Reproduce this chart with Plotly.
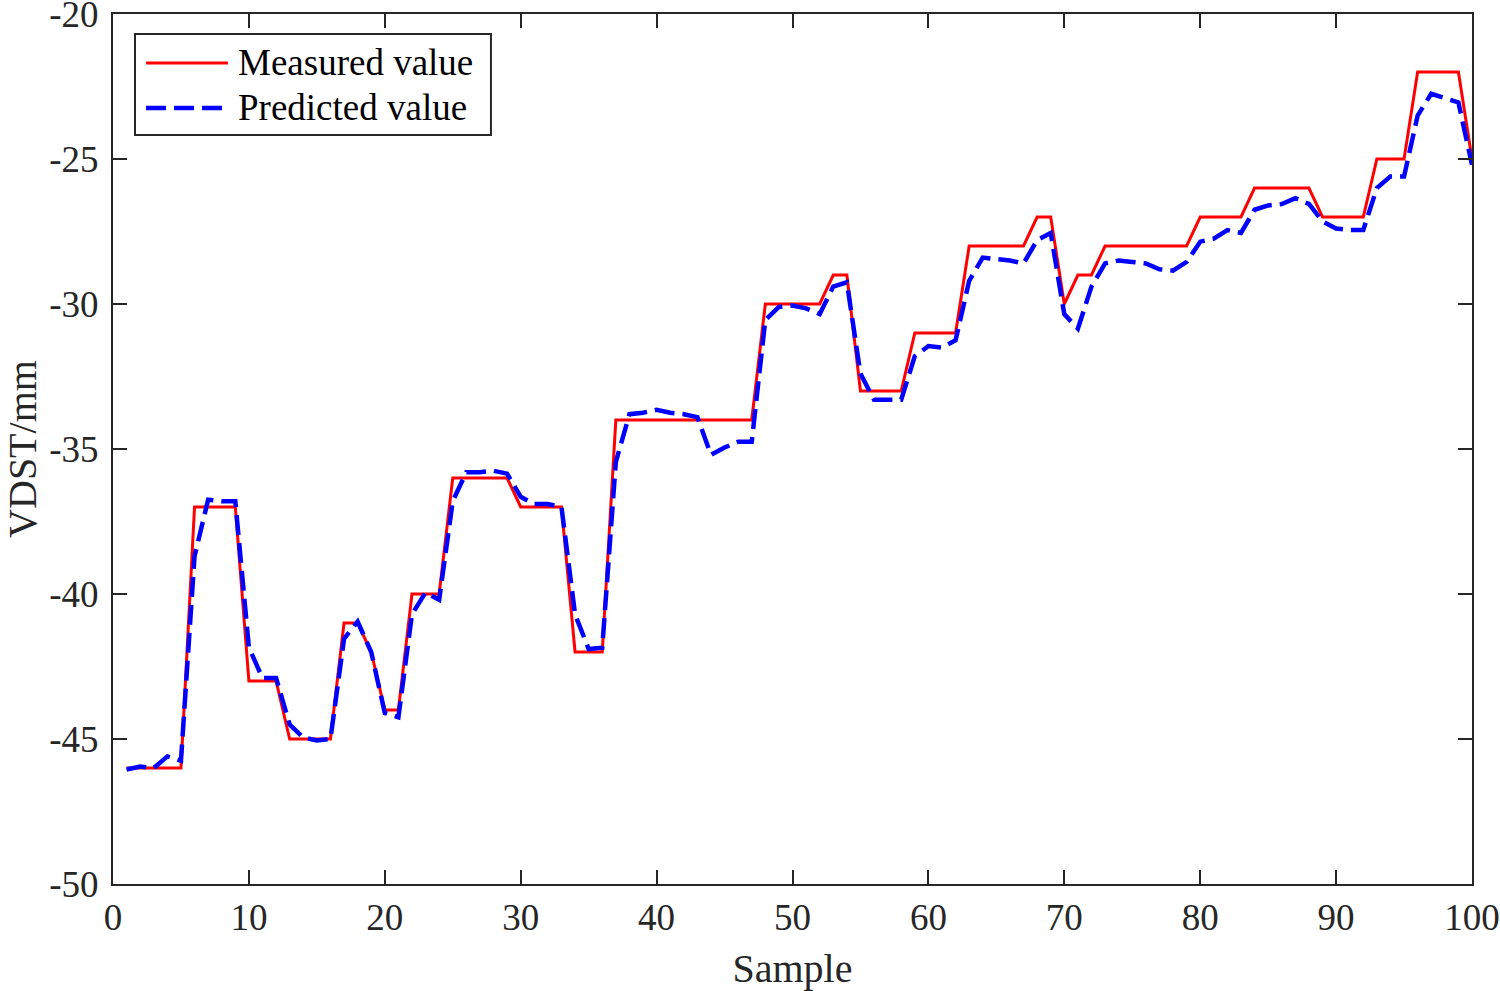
import plotly.graph_objects as go

# sample index
sample = list(range(1, 101))

# measured VDST (mm), stepwise integer values
measured = [
    -46, -46, -46, -46, -46,
    -37, -37, -37, -37,
    -43, -43, -43,
    -45, -45, -45, -45,
    -41, -41, -42, -44, -44,
    -40, -40, -40,
    -36, -36, -36, -36, -36,
    -37, -37, -37, -37,
    -42, -42, -42,
    -34, -34, -34, -34, -34, -34, -34, -34, -34, -34, -34,
    -30, -30, -30, -30, -30,
    -29, -29,
    -33, -33, -33, -33,
    -31, -31, -31, -31,
    -28, -28, -28, -28, -28,
    -27, -27,
    -30,
    -29, -29,
    -28, -28, -28, -28, -28, -28, -28,
    -27, -27, -27, -27,
    -26, -26, -26, -26, -26,
    -27, -27, -27, -27,
    -25, -25, -25,
    -22, -22, -22, -22,
    -25,
]

# predicted VDST (mm)
predicted = [
    -46.05, -45.95, -46.0, -45.6, -45.75, -38.7, -36.75, -36.8, -36.8, -41.85,
    -42.9, -42.9, -44.5, -44.95, -45.05, -45.0, -41.55, -40.95, -42.0, -44.1,
    -44.25, -40.7, -39.95, -40.2, -36.8, -35.8, -35.8, -35.75, -35.85, -36.65,
    -36.9, -36.9, -37.0, -40.7, -41.9, -41.85, -35.45, -33.8, -33.75, -33.65,
    -33.75, -33.8, -33.9, -35.2, -34.95, -34.75, -34.75, -30.55, -30.1, -30.05,
    -30.15, -30.35, -29.4, -29.25, -32.4, -33.3, -33.3, -33.3, -31.8, -31.45,
    -31.5, -31.25, -29.2, -28.4, -28.45, -28.5, -28.6, -27.8, -27.55, -30.35,
    -30.85, -29.4, -28.6, -28.5, -28.55, -28.6, -28.8, -28.85, -28.55, -27.85,
    -27.75, -27.45, -27.55, -26.75, -26.6, -26.55, -26.35, -26.55, -27.15, -27.4,
    -27.45, -27.45, -26.0, -25.6, -25.6, -23.5, -22.75, -22.9, -23.05, -25.2,
]

# tick labels (plain hyphen for minus, as in the original)
x_ticks = [0, 10, 20, 30, 40, 50, 60, 70, 80, 90, 100]
y_ticks = [-50, -45, -40, -35, -30, -25, -20]
y_tick_text = ["-50", "-45", "-40", "-35", "-30", "-25", "-20"]

series_names = ["Measured value", "Predicted value"]
series_colors = ["#ff0000", "#0000ff"]
series_dash = ["solid", "20px,8px"]
series_width = [3, 4.5]

axis_col = "#262626"
font_name = "Liberation Serif"

fig = go.Figure()
fig.add_trace(go.Scatter(x=sample, y=measured, mode="lines", name=series_names[0],
                         line=dict(color=series_colors[0], width=series_width[0])))
fig.add_trace(go.Scatter(x=sample, y=predicted, mode="lines", name=series_names[1],
                         line=dict(color=series_colors[1], width=series_width[1], dash=series_dash[1])))

axis_common = dict(
    showline=True, linecolor=axis_col, linewidth=2, mirror="ticks",
    ticks="inside", ticklen=14, tickwidth=2, tickcolor=axis_col,
    showgrid=False, zeroline=False, automargin=False,
    ticklabeloverflow="allow",
    tickfont=dict(family=font_name, size=37, color=axis_col),
)

fig.update_xaxes(range=[0, 100], tickvals=x_ticks,
                 title=dict(text="Sample", font=dict(family=font_name, size=40, color=axis_col), standoff=24),
                 **axis_common)
fig.update_yaxes(range=[-50, -20], tickvals=y_ticks, ticktext=y_tick_text, ticklabelstandoff=5,
                 title=dict(text="VDST/mm", font=dict(family=font_name, size=40, color=axis_col), standoff=28),
                 **axis_common)

# legend box drawn in paper coordinates (MATLAB-style long line samples)
fig.add_shape(type="rect", xref="paper", yref="paper", x0=0.0162, x1=0.2781, y0=0.861, y1=0.977,
              line=dict(color=axis_col, width=2), fillcolor="white", layer="above")
legend_y = [0.9437, 0.892]
for k in range(2):
    fig.add_shape(type="line", xref="paper", yref="paper", x0=0.0243, x1=0.0846,
                  y0=legend_y[k], y1=legend_y[k], layer="above",
                  line=dict(color=series_colors[k], width=series_width[k], dash=series_dash[k]))
    fig.add_annotation(xref="paper", yref="paper", x=0.0905, y=legend_y[k], xanchor="left",
                       yanchor="middle", text=series_names[k], showarrow=False,
                       font=dict(family=font_name, size=37, color="black"))

fig.update_layout(
    width=1500, height=991,
    margin=dict(l=113, r=28, t=14, b=107),
    plot_bgcolor="white", paper_bgcolor="white",
    font=dict(family=font_name, color="black"),
    showlegend=False,
)

# drop the page's default body margin so the figure fills the window exactly
fig.write_html("out.html", config={"displayModeBar": False},
               post_script="document.body.style.margin='0';")
